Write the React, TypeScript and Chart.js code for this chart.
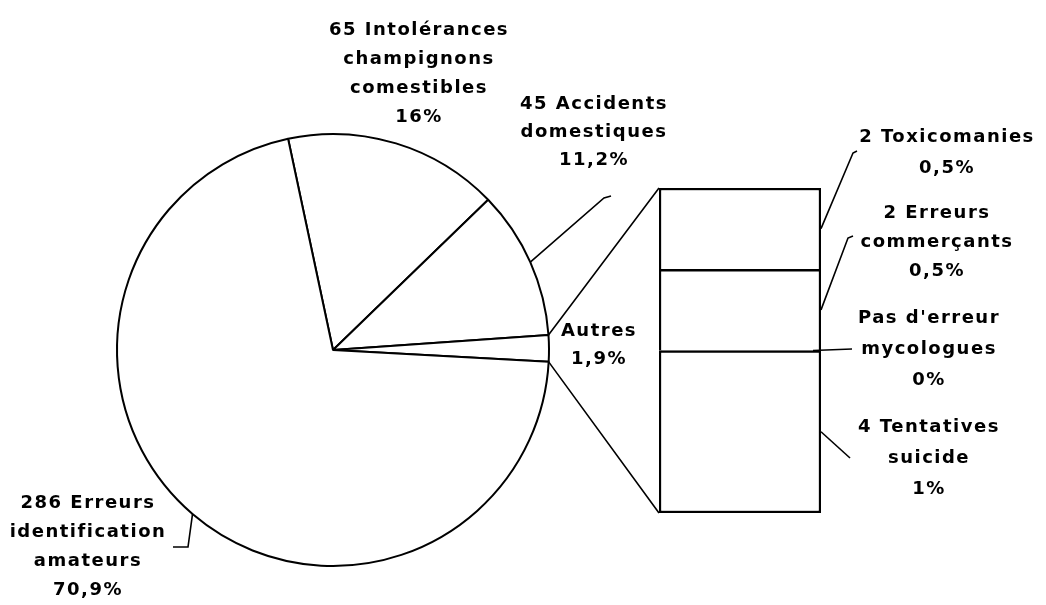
import React, { useEffect, useRef } from 'react';
import Chart from 'chart.js/auto';

const W = 1046;
const H = 605;

// ---- data ----
const SLICE_LABELS = ['Intolérances champignons comestibles', 'Accidents domestiques', 'Autres', 'Erreurs identification amateurs'];
const SLICE_VALUES = [65, 45, 8, 286];
const SLICE_TEXT = [
  ['65 Intolérances', 'champignons', 'comestibles', '16%'],
  ['45 Accidents', 'domestiques', '11,2%'],
  ['Autres', '1,9%'],
  ['286 Erreurs', 'identification', 'amateurs', '70,9%'],
];
const BAR_LABELS = ['Tentatives suicide', "Pas d'erreur mycologues", 'Erreurs commerçants', 'Toxicomanies'];
const BAR_VALUES = [4, 0, 2, 2];
const BAR_TEXT = [
  ['4 Tentatives', 'suicide', '1%'],
  ["Pas d'erreur", 'mycologues', '0%'],
  ['2 Erreurs', 'commerçants', '0,5%'],
  ['2 Toxicomanies', '0,5%'],
];

// ---- layout ----
const PIE_CX = 333, PIE_CY = 350, PIE_R = 217;
const PIE_ROTATION = -12; // degrees from top, clockwise
const BAR_BOX = { left: 659, right: 821, top: 188, bottom: 513 };
const SLICE_LABEL_POS = [
  { x: 419, y: 30, dy: 29 },
  { x: 594, y: 104, dy: 28 },
  { x: 599, y: 331, dy: 28 },
  { x: 88, y: 503, dy: 29 },
];
const SLICE_LEADER: number[][][] = [
  [],
  [[604, 198], [611, 196]],
  [],
  [[188, 547], [173, 547]],
];
const BAR_LABEL_POS = [
  { x: 929, y: 427, dy: 31 },
  { x: 929, y: 318, dy: 31 },
  { x: 937, y: 213, dy: 29 },
  { x: 947, y: 137, dy: 31 },
];
const BAR_LEADER: number[][][] = [
  [[850, 458]],
  [[852, 349]],
  [[848, 238], [853, 236]],
  [[853, 153], [857, 151]],
];
const FONT = 'bold 18px "DejaVu Sans"';

function drawLines(ctx: CanvasRenderingContext2D, lines: string[], x: number, y: number, dy: number) {
  lines.forEach((t, i) => ctx.fillText(t, x, y + i * dy));
}

export default function App() {
  const pieRef = useRef<HTMLCanvasElement>(null);
  const barRef = useRef<HTMLCanvasElement>(null);

  useEffect(() => {
    const pie = new Chart(pieRef.current as HTMLCanvasElement, {
      type: 'pie',
      data: {
        labels: SLICE_LABELS,
        datasets: [{ data: SLICE_VALUES, backgroundColor: '#ffffff', borderColor: '#000000', borderWidth: 2 }],
      },
      options: {
        responsive: false,
        animation: false,
        events: [],
        rotation: PIE_ROTATION,
        layout: {
          padding: {
            left: PIE_CX - PIE_R,
            right: W - PIE_CX - PIE_R,
            top: PIE_CY - PIE_R,
            bottom: H - PIE_CY - PIE_R,
          },
        },
        plugins: { legend: { display: false }, tooltip: { enabled: false } },
      },
    });

    const overlay = {
      id: 'overlay',
      afterDraw(chart: any) {
        const ctx: CanvasRenderingContext2D = chart.ctx;
        const arcs: any[] = pie.getDatasetMeta(0).data as any[];
        ctx.save();
        ctx.strokeStyle = '#000';
        ctx.lineWidth = 1.6;
        // connectors from "Autres" slice to bar
        const a = arcs[2];
        const p1 = [a.x + a.outerRadius * Math.cos(a.startAngle), a.y + a.outerRadius * Math.sin(a.startAngle)];
        const p2 = [a.x + a.outerRadius * Math.cos(a.endAngle), a.y + a.outerRadius * Math.sin(a.endAngle)];
        const ys = chart.scales.y;
        const barEls: any[] = chart.getDatasetMeta(0).data as any[];
        const bl = barEls[0].x - barEls[0].width / 2;
        const topY = ys.getPixelForValue(ys.max);
        const botY = ys.getPixelForValue(0);
        ctx.beginPath();
        ctx.moveTo(p1[0], p1[1]);
        ctx.lineTo(bl, topY);
        ctx.moveTo(p2[0], p2[1]);
        ctx.lineTo(bl, botY);
        ctx.stroke();

        // slice leaders
        arcs.forEach((arc: any, i: number) => {
          const pts = SLICE_LEADER[i];
          if (!pts.length) return;
          const mid = (arc.startAngle + arc.endAngle) / 2;
          ctx.beginPath();
          ctx.moveTo(arc.x + arc.outerRadius * Math.cos(mid), arc.y + arc.outerRadius * Math.sin(mid));
          pts.forEach((p) => ctx.lineTo(p[0], p[1]));
          ctx.stroke();
        });

        // bar leaders
        chart.data.datasets.forEach((_: any, i: number) => {
          const el: any = chart.getDatasetMeta(i).data[0];
          const right = el.x + el.width / 2;
          const midY = (el.y + el.base) / 2;
          ctx.beginPath();
          ctx.moveTo(right - (BAR_VALUES[i] === 0 ? 8 : 0), midY);
          BAR_LEADER[i].forEach((p) => ctx.lineTo(p[0], p[1]));
          ctx.stroke();
        });

        // labels
        ctx.fillStyle = '#000';
        ctx.font = FONT;
        (ctx as any).letterSpacing = '1.5px';
        ctx.textAlign = 'center';
        ctx.textBaseline = 'middle';
        SLICE_TEXT.forEach((lines, i) => {
          const p = SLICE_LABEL_POS[i];
          drawLines(ctx, lines, p.x, p.y, p.dy);
        });
        BAR_TEXT.forEach((lines, i) => {
          const p = BAR_LABEL_POS[i];
          drawLines(ctx, lines, p.x, p.y, p.dy);
        });
        ctx.restore();
      },
    };

    const bar = new Chart(barRef.current as HTMLCanvasElement, {
      type: 'bar',
      data: {
        labels: ['Autres'],
        datasets: BAR_LABELS.map((label, i) => ({
          label,
          data: [BAR_VALUES[i]],
          backgroundColor: '#ffffff',
          borderColor: '#000000',
          borderWidth: i === 0 ? 2.5 : { top: 2.5, left: 2.5, right: 2.5, bottom: 0 },
          borderSkipped: false,
          barPercentage: 1,
          categoryPercentage: 1,
        })),
      },
      options: {
        responsive: false,
        animation: false,
        events: [],
        layout: {
          padding: {
            left: BAR_BOX.left,
            right: W - BAR_BOX.right,
            top: BAR_BOX.top,
            bottom: H - BAR_BOX.bottom,
          },
        },
        scales: {
          x: { stacked: true, display: false },
          y: { stacked: true, display: false, min: 0, max: 8 },
        },
        plugins: { legend: { display: false }, tooltip: { enabled: false } },
      },
      plugins: [overlay],
    });

    return () => {
      bar.destroy();
      pie.destroy();
    };
  }, []);

  const canvasStyle: React.CSSProperties = { position: 'absolute', left: 0, top: 0, width: W, height: H };
  return (
    <div style={{ position: 'fixed', left: 0, top: 0, width: W, height: H, background: '#ffffff' }}>
      <canvas ref={pieRef} width={W} height={H} style={canvasStyle} />
      <canvas ref={barRef} width={W} height={H} style={canvasStyle} />
    </div>
  );
}
